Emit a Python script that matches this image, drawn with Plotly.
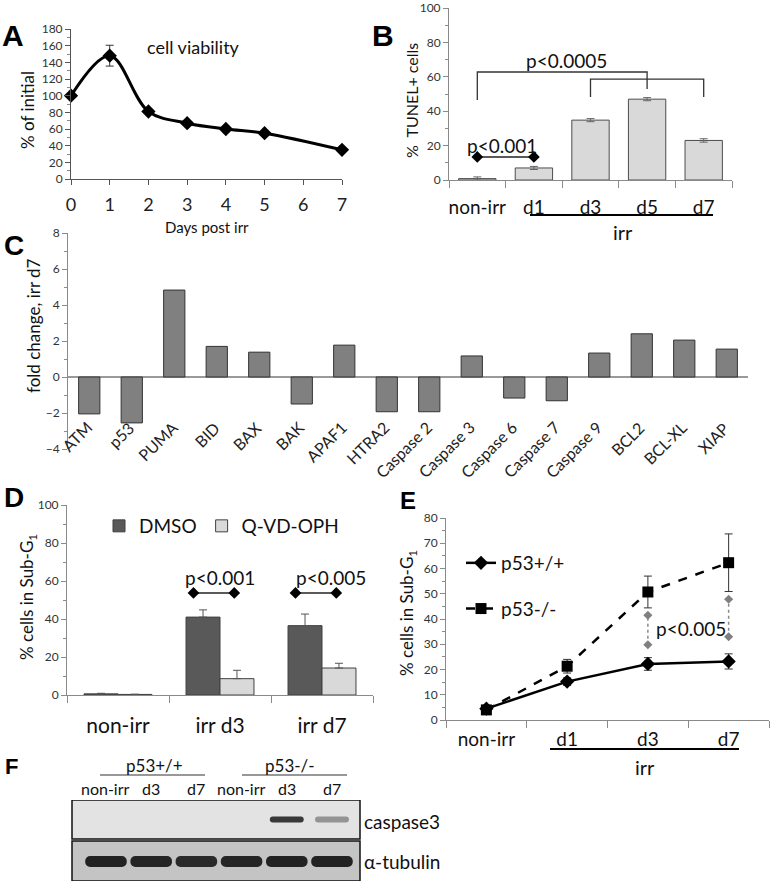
import plotly.graph_objects as go

W, H = 774, 886
FONT = "Lato"
TXT = "#111111"
AX = "#8a8a8a"


def px(x):
    return x / W


def py(y):
    return 1 - y / H


# ---------------- data ----------------
# A: cell viability
days = [0, 1, 2, 3, 4, 5, 7]
viability = [100, 148, 81, 67, 60, 55, 35]
viability_err = [0, 12.5, 0, 0, 0, 0, 0]

# B: TUNEL
tunel_cats = ["non-irr", "d1", "d3", "d5", "d7"]
tunel_vals = [0.8, 7.0, 34.8, 47.0, 23.0]
tunel_err = [1.0, 0.9, 0.9, 0.9, 1.0]

# C: fold change irr d7
genes = ["ATM", "p53", "PUMA", "BID", "BAX", "BAK", "APAF1", "HTRA2",
         "Caspase 2", "Caspase 3", "Caspase 6", "Caspase 7", "Caspase 9",
         "BCL2", "BCL-XL", "XIAP"]
fold = [-2.05, -2.55, 4.83, 1.7, 1.38, -1.5, 1.77, -1.93,
        -1.93, 1.17, -1.17, -1.32, 1.33, 2.4, 2.05, 1.55]

# D: Sub-G1 DMSO vs Q-VD-OPH
d_cats = ["non-irr", "irr d3", "irr d7"]
dmso = [0.6, 41.0, 36.5]
dmso_err = [0.3, 3.8, 6.1]
qvd = [0.3, 8.6, 14.2]
qvd_err = [0.1, 4.4, 2.5]

# E: Sub-G1 p53+/+ vs p53-/-
e_cats = ["non-irr", "d1", "d3", "d7"]
p53wt = [4.5, 15.2, 22.2, 23.2]
p53wt_err = [0.8, 1.5, 2.5, 3.0]
p53ko = [4.0, 21.3, 50.7, 62.3]
p53ko_err = [1.0, 2.7, 6.3, 11.4]
e_sig_d3 = [29.8, 41.5]
e_sig_d7 = [33.0, 47.8]

# F: western blot
lanes = [0, 1, 2, 3, 4, 5]
lane_labels = ["non-irr", "d3", "d7", "non-irr", "d3", "d7"]
casp3_intensity = [0, 0, 0, 0, 0.82, 0.38]
tubulin_intensity = [0.92, 0.9, 0.88, 0.9, 0.92, 0.92]

fig = go.Figure()

# ---------------- A ----------------
fig.add_trace(go.Scatter(
    x=days, y=viability, mode="lines+markers", xaxis="x", yaxis="y",
    line=dict(color="black", width=3, shape="spline", smoothing=1.0),
    marker=dict(symbol="diamond", size=11, color="black"),
    error_y=dict(type="data", array=viability_err, color="#333", thickness=1, width=4),
    cliponaxis=False, showlegend=False))

# ---------------- B ----------------
fig.add_trace(go.Bar(
    x=tunel_cats, y=tunel_vals, xaxis="x2", yaxis="y2", width=0.66,
    marker=dict(color="#d9d9d9", line=dict(color="#4d4d4d", width=1)),
    error_y=dict(type="data", array=tunel_err, color="#666", thickness=1, width=4),
    showlegend=False))
fig.add_trace(go.Scatter(
    x=[tunel_cats[0], tunel_cats[0], tunel_cats[3], tunel_cats[3]],
    y=[46.5, 62.8, 62.8, 52.9], mode="lines", xaxis="x2", yaxis="y2",
    line=dict(color="#333", width=1.3), showlegend=False, hoverinfo="skip"))
fig.add_trace(go.Scatter(
    x=[tunel_cats[2], tunel_cats[2], tunel_cats[4], tunel_cats[4]],
    y=[48.3, 58.7, 58.7, 48.3], mode="lines", xaxis="x2", yaxis="y2",
    line=dict(color="#333", width=1.3), showlegend=False, hoverinfo="skip"))
fig.add_trace(go.Scatter(
    x=[tunel_cats[0], tunel_cats[1]], y=[13.4, 13.4], mode="lines+markers",
    xaxis="x2", yaxis="y2", line=dict(color="#222", width=1.5),
    marker=dict(symbol="diamond", size=9, color="black"), cliponaxis=False,
    showlegend=False, hoverinfo="skip"))

# ---------------- C ----------------
fig.add_trace(go.Bar(
    x=genes, y=fold, xaxis="x3", yaxis="y3", width=0.5,
    marker=dict(color="#808080", line=dict(color="#333", width=1)),
    showlegend=False))

# ---------------- D ----------------
fig.add_trace(go.Bar(
    x=[0, 1, 2], y=dmso, name="DMSO", xaxis="x4", yaxis="y4", width=0.333, offset=-0.333,
    marker=dict(color="#595959", line=dict(color="#404040", width=1)),
    error_y=dict(type="data", array=dmso_err, arrayminus=[0, 0, 0], symmetric=False,
                 color="#555", thickness=1, width=4),
    legend="legend"))
fig.add_trace(go.Bar(
    x=[0, 1, 2], y=qvd, name="Q-VD-OPH", xaxis="x4", yaxis="y4", width=0.333, offset=0,
    marker=dict(color="#d9d9d9", line=dict(color="#404040", width=1)),
    error_y=dict(type="data", array=qvd_err, arrayminus=[0, 0, 0], symmetric=False,
                 color="#555", thickness=1, width=4),
    legend="legend"))
for c in (1, 2):
    fig.add_trace(go.Scatter(
        x=[c - 0.26, c + 0.14], y=[53.7, 53.7], mode="lines+markers", xaxis="x4", yaxis="y4",
        line=dict(color="#222", width=1.5), marker=dict(symbol="diamond", size=9, color="black"),
        showlegend=False, hoverinfo="skip"))

# ---------------- E ----------------
fig.add_trace(go.Scatter(
    x=e_cats, y=p53wt, name="p53+/+", mode="lines+markers", xaxis="x5", yaxis="y5",
    line=dict(color="black", width=2.5), marker=dict(symbol="diamond", size=11, color="black"),
    error_y=dict(type="data", array=p53wt_err, color="#333", thickness=1, width=4),
    legend="legend2", legendgroup="wt", cliponaxis=False))
fig.add_trace(go.Scatter(
    x=e_cats, y=p53ko, name="p53-/-", mode="lines+markers", xaxis="x5", yaxis="y5",
    line=dict(color="black", width=2.5, dash="dash"),
    marker=dict(symbol="square", size=11, color="black"),
    error_y=dict(type="data", array=p53ko_err, color="#333", thickness=1, width=4),
    legend="legend2", legendgroup="ko", cliponaxis=False))
for cat, vals in (("d3", e_sig_d3), ("d7", e_sig_d7)):
    fig.add_trace(go.Scatter(
        x=[cat, cat], y=vals, mode="lines+markers", xaxis="x5", yaxis="y5",
        line=dict(color="#888", width=1.5, dash="dot"),
        marker=dict(symbol="diamond", size=7, color="#808080"),
        showlegend=False, hoverinfo="skip"))

# ---------------- F ----------------
def band_colors(intens):
    return [f"rgba(20,20,20,{i})" for i in intens]


tub_center, tub_h = 19.5, 11
cas_center, cas_h = 61.5, 6
fig.add_trace(go.Bar(
    x=lanes, y=[tub_h] * len(lanes), base=[tub_center - tub_h / 2] * len(lanes),
    xaxis="x6", yaxis="y6", width=0.92,
    marker=dict(color=band_colors(tubulin_intensity), line=dict(width=0), cornerradius=5),
    showlegend=False, hoverinfo="skip"))
fig.add_trace(go.Bar(
    x=lanes, y=[cas_h] * len(lanes), base=[cas_center - cas_h / 2] * len(lanes),
    xaxis="x6", yaxis="y6", width=0.75,
    marker=dict(color=band_colors(casp3_intensity), line=dict(width=0), cornerradius=3),
    showlegend=False, hoverinfo="skip"))

# ---------------- axes ----------------
tickf = dict(family=FONT, size=12, color="#333")


def yax(dom_bottom, dom_top, rng, dtick, minor, anchor, **kw):
    d = dict(domain=[py(dom_bottom), py(dom_top)], range=rng, dtick=dtick,
             showline=True, linecolor=AX, linewidth=1, ticks="outside", ticklen=5,
             tickcolor=AX, tickfont=tickf, showgrid=False, zeroline=False, anchor=anchor,
             minor=dict(dtick=minor, ticks="outside", ticklen=3, tickcolor=AX), fixedrange=True)
    d.update(kw)
    return d


layout = dict(
    width=W, height=H, margin=dict(l=0, r=0, t=0, b=0, autoexpand=False),
    paper_bgcolor="white", plot_bgcolor="rgba(0,0,0,0)",
    barmode="overlay", font=dict(family=FONT, color=TXT),
    # A
    xaxis=dict(domain=[px(71), px(342)], range=[0, 7], tickvals=list(range(8)),
               showline=True, linecolor="#555", ticks="outside", ticklen=5, tickcolor="#555",
               tickfont=dict(family=FONT, size=18, color="#222"), ticklabelstandoff=4,
               tickangle=0, showgrid=False, zeroline=False, anchor="y"),
    yaxis=yax(179, 29, [0, 180], 20, 10, "x", linecolor="#555", tickcolor="#555"),
    # B
    xaxis2=dict(domain=[px(449), px(732)], type="category", tickson="boundaries",
                range=[-0.5, len(tunel_cats) - 0.5],
                showline=True, linecolor=AX, ticks="outside", ticklen=7, tickcolor=AX,
                tickfont=dict(family=FONT, size=19, color="#111"), ticklabelstandoff=10,
                tickangle=0, showgrid=False, anchor="y2"),
    yaxis2=yax(180, 8, [0, 100], 20, 10, "x2"),
    # C
    xaxis3=dict(domain=[px(68), px(748)], type="category", range=[-0.5, len(genes) - 0.5],
                showline=False, ticks="", showticklabels=False, showgrid=False, anchor="y3"),
    yaxis3=yax(449, 233, [-4, 8], 2, 1, "x3", zeroline=True, zerolinecolor="#9a9a9a",
               zerolinewidth=1.5),
    # D
    xaxis4=dict(domain=[px(67), px(373)], range=[-0.5, 2.5], tickvals=[0, 1, 2],
                ticktext=d_cats, ticks="", showline=True, linecolor=AX, tickangle=0,
                tickfont=dict(family=FONT, size=21, color="#111"), ticklabelstandoff=12,
                minor=dict(tickvals=[-0.5, 0.5, 1.5, 2.5], ticks="outside", ticklen=7, tickcolor=AX),
                showgrid=False, zeroline=False, anchor="y4"),
    yaxis4=yax(695, 505, [0, 100], 20, 10, "x4"),
    # E
    xaxis5=dict(domain=[px(446), px(769)], type="category", tickson="boundaries",
                range=[-0.5, len(e_cats) - 0.5],
                showline=True, linecolor=AX, ticks="outside", ticklen=7, tickcolor=AX,
                tickfont=dict(family=FONT, size=19, color="#111"), ticklabelstandoff=2,
                tickangle=0, showgrid=False, anchor="y5"),
    yaxis5=yax(720, 518, [0, 80], 10, 5, "x5"),
    # F
    xaxis6=dict(domain=[px(72), px(360)], range=[-0.752, 5.62], visible=False, anchor="y6"),
    yaxis6=dict(domain=[py(881), py(800)], range=[0, 81], visible=False, anchor="x6"),
    legend=dict(x=px(99), y=py(526), xanchor="left", yanchor="middle", orientation="h",
                font=dict(family=FONT, size=19, color="#111"), bgcolor="rgba(0,0,0,0)"),
    legend2=dict(x=px(461), y=py(544), xanchor="left", yanchor="top",
                 font=dict(family=FONT, size=19, color="#111"), bgcolor="rgba(0,0,0,0)",
                 tracegroupgap=18),
)
fig.update_layout(**layout)


# ---------------- annotations ----------------
def ann(text, x, y, size, color=TXT, **kw):
    d = dict(text=text, x=px(x), y=py(y), xref="paper", yref="paper", showarrow=False,
             xanchor="center", yanchor="middle",
             font=dict(family=kw.pop("family", FONT), size=size, color=color))
    d.update(kw)
    return d


anns = []
BOLD = "Liberation Sans"
for letter, x, y, s in (("A", 13, 36, 30), ("B", 383, 36, 30), ("C", 14, 245, 28),
                        ("D", 14, 498, 28), ("E", 408, 500, 24), ("F", 11, 766, 22)):
    anns.append(ann(f"<b>{letter}</b>", x, y, s, color="#000", family=BOLD))

anns.append(ann("% of initial", 27, 110, 17, textangle=-90))
anns.append(ann("cell viability", 193, 47, 18))
anns.append(ann("Days post irr", 207, 227, 15))
anns.append(ann("% &nbsp;TUNEL+ cells", 412, 101, 16, textangle=-90))
anns.append(ann("p<0.0005", 566, 61, 19))
anns.append(ann("p<0.001", 502, 145, 19))
anns.append(ann("irr", 623, 232, 20))
anns.append(ann("fold change, irr d7", 33, 326, 17, textangle=-90))
anns.append(ann("% cells in Sub-G<sub>1</sub>", 28, 597, 17, textangle=-90))
anns.append(ann("% cells in Sub-G<sub>1</sub>", 408, 613, 17, textangle=-90))
anns.append(ann("p<0.005", 691, 628, 19))
anns.append(ann("irr", 645, 767, 20))

anns.append(dict(text="p<0.001", x=1, y=61.6, xref="x4", yref="y4", showarrow=False,
                 xanchor="center", yanchor="middle",
                 font=dict(family=FONT, size=19, color=TXT)))
anns.append(dict(text="p<0.005", x=2.09, y=61.6, xref="x4", yref="y4", showarrow=False,
                 xanchor="center", yanchor="middle",
                 font=dict(family=FONT, size=19, color=TXT)))

for g in genes:
    anns.append(dict(text=g, x=g, y=py(415), xref="x3", yref="paper", showarrow=False,
                     textangle=-45, xanchor="right", yanchor="top", xshift=9,
                     font=dict(family=FONT, size=16, color="#222")))

anns.append(ann("p53+/+", 154, 765, 17))
anns.append(ann("p53-/-", 290, 765, 17))
for lane, lab in zip(lanes, lane_labels):
    anns.append(dict(text=lab, x=lane, y=py(788), xref="x6", yref="paper", showarrow=False,
                     xanchor="center", yanchor="middle",
                     font=dict(family=FONT, size=16, color=TXT)))
anns.append(ann("caspase3", 362, 821, 19, xanchor="left"))
anns.append(ann("α-tubulin", 362, 861, 19, xanchor="left"))
fig.update_layout(annotations=anns)

# ---------------- shapes ----------------
shapes = [
    dict(type="line", xref="paper", yref="paper", x0=px(530), x1=px(713), y0=py(215), y1=py(215),
         line=dict(color="black", width=2)),
    dict(type="line", xref="paper", yref="paper", x0=px(550), x1=px(739), y0=py(749), y1=py(749),
         line=dict(color="black", width=2)),
    dict(type="line", xref="paper", yref="paper", x0=px(100), x1=px(205), y0=py(775), y1=py(775),
         line=dict(color="#333", width=1.2)),
    dict(type="line", xref="paper", yref="paper", x0=px(242), x1=px(347), y0=py(775), y1=py(775),
         line=dict(color="#333", width=1.2)),
    dict(type="rect", xref="x6 domain", yref="y6", x0=0, x1=1, y0=42, y1=81,
         fillcolor="#e3e3e3", line=dict(color="#111", width=1.5), layer="below"),
    dict(type="rect", xref="x6 domain", yref="y6", x0=0, x1=1, y0=0, y1=40,
         fillcolor="#c4c4c4", line=dict(color="#111", width=1.5), layer="below"),
]
fig.update_layout(shapes=shapes)

post = ("document.documentElement.style.margin='0';document.body.style.margin='0';"
        "document.body.style.overflow='hidden';"
        "var d=document.getElementById('{plot_id}');d.style.position='absolute';"
        "d.style.left='0px';d.style.top='0px';")
fig.write_html("out.html", post_script=post, config={"displayModeBar": False})
